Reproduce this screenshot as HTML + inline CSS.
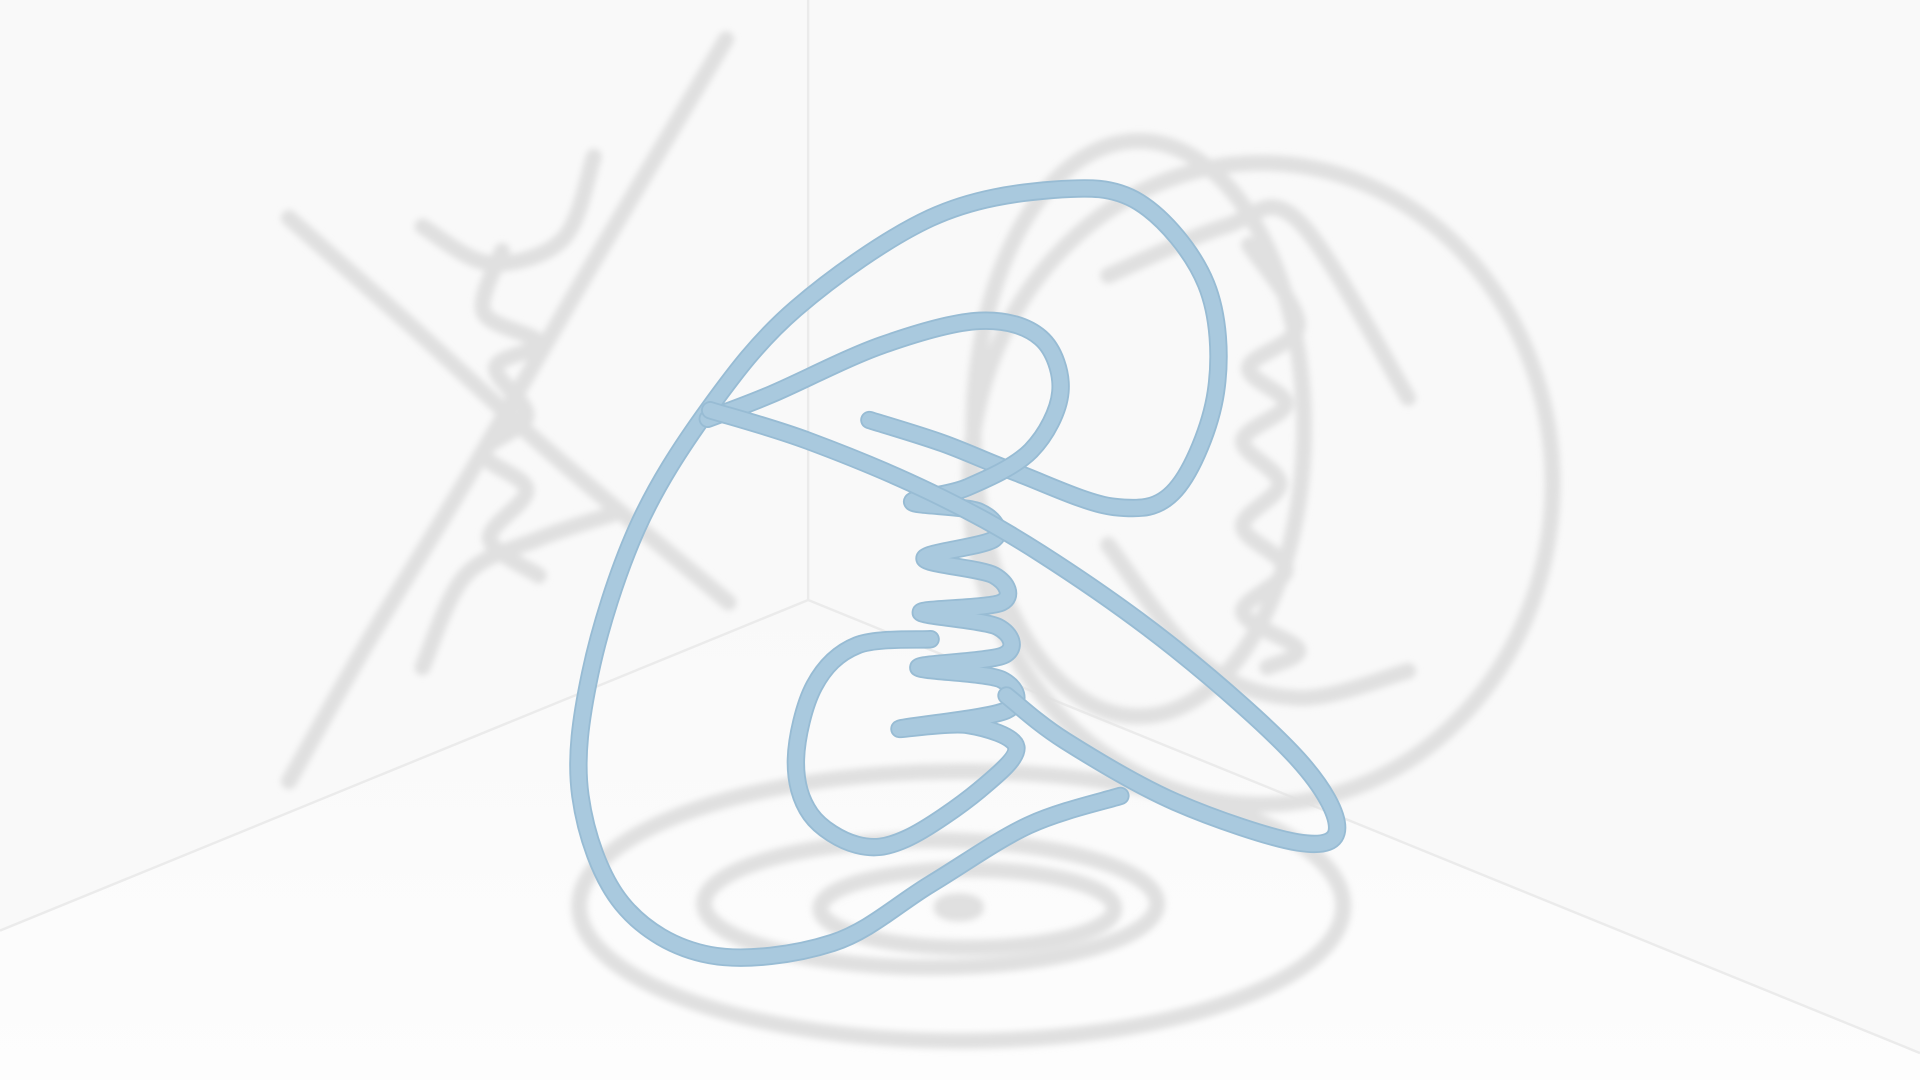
<!DOCTYPE html>
<html><head><meta charset="utf-8"><style>
html,body{margin:0;padding:0;background:#fafafa;overflow:hidden}
svg{display:block}
</style></head><body>
<svg id="scene" width="1920" height="1080" viewBox="0 0 1568 882" preserveAspectRatio="none" xmlns="http://www.w3.org/2000/svg">
<defs>
<filter id="blur" x="-10%" y="-10%" width="120%" height="120%"><feGaussianBlur stdDeviation="2.6"/></filter>
<linearGradient id="floorg" x1="0" y1="0" x2="0" y2="1"><stop offset="0" stop-color="#f9f9f9"/><stop offset="1" stop-color="#fdfdfd"/></linearGradient>
</defs>
<rect x="0" y="0" width="1568" height="882" fill="#f9f9f9"/>
<polygon points="0,760 660,490 1568,860 1568,882 0,882" fill="url(#floorg)"/>
<g stroke="#ebebeb" stroke-width="2" fill="none">
<line x1="660" y1="0" x2="660" y2="490"/>
<line x1="660" y1="490" x2="0" y2="760"/>
<line x1="660" y1="490" x2="1568" y2="860"/>
</g>
<g id="shadows" fill="none" stroke="#e0e0e0" stroke-width="13" stroke-linecap="round" filter="url(#blur)"></g>
<g id="tube" fill="none" stroke-linecap="round" stroke-linejoin="round"></g>
</svg>
<script>
// curve series: projected points of the knot (view units)
const tubeA = [[710,343],[770,362],[830,386],[910,414],[960,400],[993,320],[985,232],[930,165],[860,155],[760,178],[650,252],[578,335],[520,432],[482,550],[474,650],[508,738],[580,780],[680,770],[760,722],[840,674],[915,650]];
const tubeB = [[578,342],[630,322],[720,282],[800,262],[850,276],[866,320],[842,368],[790,398],[745,410],[800,418],[812,440],[755,456],[812,470],[818,492],[752,500],[815,512],[820,535],[750,545],[818,555],[822,580],[735,595],[790,592],[830,610],[800,645],[740,685],[700,690],[662,665],[650,620],[665,560],[700,527],[760,522]];
const tubeC = [[580,335],[660,360],[760,402],[850,452],[960,530],[1060,620],[1092,676],[1060,688],[960,655],[870,605],[822,568]];
const shadowLines = [
 [[593,32],[480,222],[385,385],[300,525],[236,638]],
 [[236,178],[340,270],[450,370],[595,492]],
 [[345,185],[400,215],[460,195],[485,128]],
 [[345,545],[380,470],[440,440],[500,420]],
 [[410,205],[395,255],[440,280],[405,300],[430,340],[395,370],[430,400],[400,440],[440,470]],
 [[905,225],[1000,185],[1060,180],[1150,325]],
 [[905,445],[980,540],[1060,570],[1150,548]],
 [[1020,200],[1060,265],[1020,300],[1050,330],[1015,360],[1045,395],[1015,430],[1050,465],[1015,500],[1060,530],[1035,545]]
];
const shadowEllipses = [[1030,395,238,262],[930,350,135,235],[785,740,312,110],[760,738,185,52],[790,742,120,32],[783,741,14,5]];

function path(pts){
  let d='M'+pts[0][0]+','+pts[0][1];
  for(let i=0;i<pts.length-1;i++){
    const p0=pts[Math.max(i-1,0)],p1=pts[i],p2=pts[i+1],p3=pts[Math.min(i+2,pts.length-1)];
    const c1=[p1[0]+(p2[0]-p0[0])/6,p1[1]+(p2[1]-p0[1])/6];
    const c2=[p2[0]-(p3[0]-p1[0])/6,p2[1]-(p3[1]-p1[1])/6];
    d+=' C'+c1.join(',')+' '+c2.join(',')+' '+p2.join(',');
  }
  return d;
}
const NS='http://www.w3.org/2000/svg';
const sh=document.getElementById('shadows');
shadowEllipses.forEach(e=>{
  const el=document.createElementNS(NS,'ellipse');
  
  
  el.setAttribute('cx',e[0]);el.setAttribute('cy',e[1]);el.setAttribute('rx',e[2]);el.setAttribute('ry',e[3]);
  sh.appendChild(el);
});
shadowLines.forEach(s=>{
  const el=document.createElementNS(NS,'path');
  
  
  el.setAttribute('d',path(s));
  sh.appendChild(el);
});
const tube=document.getElementById('tube');
[tubeA,tubeB,tubeC].forEach(t=>{
  const d=path(t);
  const o=document.createElementNS(NS,'path');
  
  
  o.setAttribute('d',d);o.setAttribute('stroke','#98bcd4');o.setAttribute('stroke-width','15');
  tube.appendChild(o);
  const f=document.createElementNS(NS,'path');
  
  
  f.setAttribute('d',d);f.setAttribute('stroke','#a9c9de');f.setAttribute('stroke-width','12');
  tube.appendChild(f);
});
</script>
</body></html>
